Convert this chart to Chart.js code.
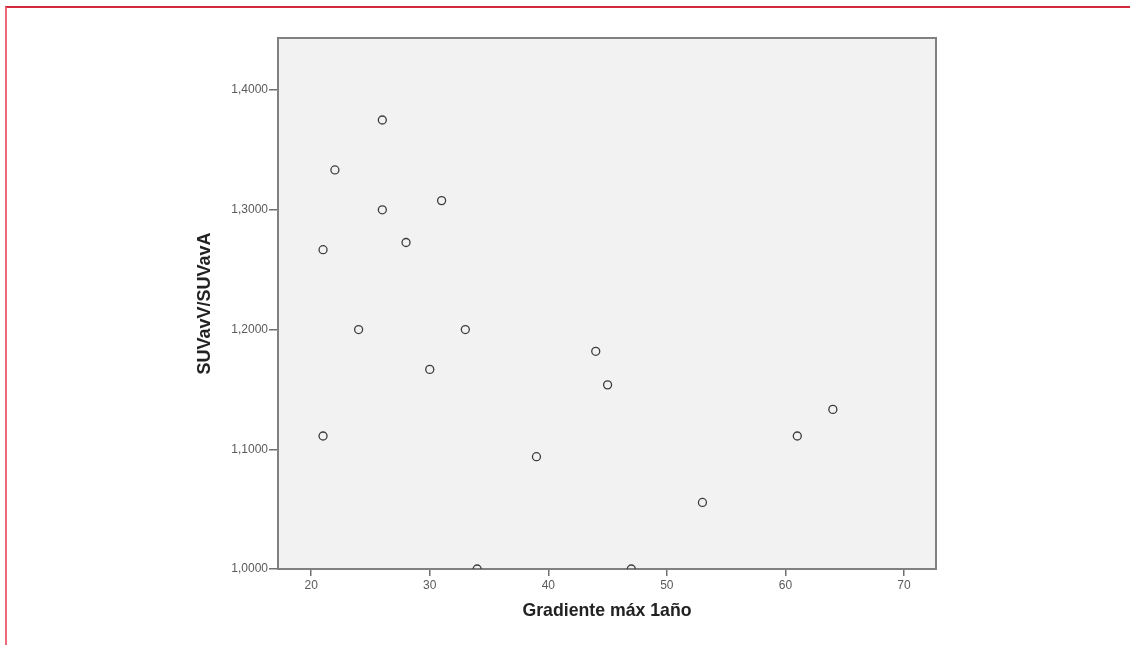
<!DOCTYPE html>
<html>
<head>
<meta charset="utf-8">
<script src="https://cdn.jsdelivr.net/npm/chart.js@4"></script>
<style>
  body { margin: 0; background: #fff; overflow: hidden; }
  #wrap { position: relative; width: 1130px; height: 645px; }
  #marco { position: absolute; left: 5px; top: 6px; right: 0; bottom: 0;
           border-top: 2px solid #d42a3c; border-left: 2px solid #ee6a78; }
  canvas { position: absolute; left: 0; top: 0; }
</style>
</head>
<body>
<div id="wrap">
  <div id="marco"></div>
  <canvas id="grafico" width="1130" height="645"></canvas>
</div>
<script>
// Datos
const gradiente = [21, 21, 22, 24, 26, 26, 28, 30, 31, 33, 34, 39, 44, 45, 47, 53, 61, 64];
const suvRatio = [1.1111, 1.2667, 1.3333, 1.2000, 1.3750, 1.3000, 1.2727, 1.1667, 1.3077,
                  1.2000, 1.0000, 1.0938, 1.1818, 1.1538, 1.0000, 1.0556, 1.1111, 1.1333];
const ticksX = [20, 30, 40, 50, 60, 70];
const ticksY = [1.0, 1.1, 1.2, 1.3, 1.4];

const puntos = gradiente.map((g, i) => ({ x: g, y: suvRatio[i] }));

// Fondo gris y marco del área del gráfico
const marcoArea = {
    id: 'marcoArea',
    beforeDatasetsDraw(chart) {
        const { ctx, chartArea: a } = chart;
        ctx.save();
        ctx.fillStyle = '#f2f2f2';
        ctx.fillRect(a.left, a.top, a.right - a.left, a.bottom - a.top);
        ctx.strokeStyle = '#808080';
        ctx.lineWidth = 2;
        ctx.strokeRect(a.left, a.top, a.right - a.left, a.bottom - a.top);
        ctx.restore();
    }
};

const fuenteTicks = { family: 'Liberation Sans, Arial, sans-serif', size: 12 };
const fuenteTituloX = { family: 'Liberation Sans, Arial, sans-serif', size: 17.7, weight: 'bold' };
const fuenteTituloY = { family: 'Liberation Sans, Arial, sans-serif', size: 18, weight: 'bold' };

new Chart(document.getElementById('grafico').getContext('2d'), {
    type: 'scatter',
    data: {
        datasets: [{
            data: puntos,
            pointRadius: 4,
            pointHoverRadius: 4,
            borderWidth: 1.3,
            borderColor: '#3c3c3c',
            backgroundColor: 'rgba(0,0,0,0)',
            clip: 0
        }]
    },
    options: {
        responsive: false,
        animation: false,
        layout: { padding: { left: 194, right: 194, top: 38, bottom: 0 } },
        plugins: { legend: { display: false }, tooltip: { enabled: false } },
        scales: {
            x: {
                type: 'linear',
                min: 17.2,
                max: 72.7,
                afterBuildTicks: (s) => { s.ticks = ticksX.map(v => ({ value: v })); },
                afterFit: (s) => { s.height = 76; },
                border: { display: false },
                grid: { drawOnChartArea: false, drawTicks: true, tickLength: 7, color: '#707070', lineWidth: 1.5 },
                ticks: { font: fuenteTicks, color: '#5a5a5a', padding: 2, maxRotation: 0 },
                title: { display: true, text: 'Gradiente máx 1año', font: fuenteTituloX, color: '#222', padding: { top: 0, bottom: 23 } }
            },
            y: {
                type: 'linear',
                min: 1.0,
                max: 1.4435,
                afterBuildTicks: (s) => { s.ticks = ticksY.map(v => ({ value: v })); },
                afterFit: (s) => { s.width = 84; },
                border: { display: false },
                grid: { drawOnChartArea: false, drawTicks: true, tickLength: 9, color: '#707070', lineWidth: 1.5 },
                ticks: {
                    font: fuenteTicks,
                    color: '#5a5a5a',
                    padding: 1,
                    callback: (v) => Number(v).toFixed(4).replace('.', ',')
                },
                title: { display: true, text: 'SUVavV/SUVavA', font: fuenteTituloY, color: '#222', padding: 0 }
            }
        }
    },
    plugins: [marcoArea]
});
</script>
</body>
</html>
